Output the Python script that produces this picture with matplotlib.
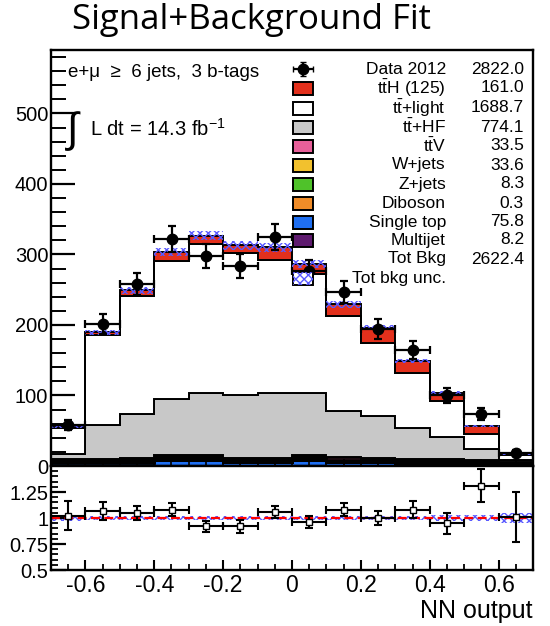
import matplotlib
matplotlib.use('Agg')
import matplotlib.pyplot as plt
from matplotlib.ticker import MultipleLocator, FixedLocator
from matplotlib.patches import Rectangle
import numpy as np

plt.rcParams['font.family'] = ['Liberation Sans', 'DejaVu Sans']
plt.rcParams['axes.unicode_minus'] = False
plt.rcParams['mathtext.fontset'] = 'custom'
plt.rcParams['mathtext.rm'] = 'Liberation Sans'
plt.rcParams['hatch.linewidth'] = 1.0

# NN output binning (14 bins)
bin_edges = [-0.7, -0.6, -0.5, -0.4, -0.3, -0.2, -0.1, 0.0, 0.1, 0.2, 0.3, 0.4, 0.5, 0.6, 0.7]

# Observed events per bin
data = [58, 202, 258, 322, 298, 284, 325, 276, 247, 194, 164, 100, 74, 19]

# Post-fit yields per bin, stacked bottom -> top
multijet = [1.5, 1.0, 0.8, 0.6, 0.6, 0.5, 0.5, 0.5, 0.4, 0.4, 0.3, 0.2, 0.1, 0.8]
single_top = [3.5, 4.5, 5.0, 8.5, 8.5, 5.0, 5.0, 8.5, 5.5, 5.0, 4.5, 4.5, 4.0, 3.8]
diboson = [0, 0, 0.05, 0.05, 0.05, 0.05, 0.05, 0.05, 0, 0, 0, 0, 0, 0]
zjets = [1.0, 0.8, 0.7, 0.7, 0.6, 0.6, 0.6, 0.6, 0.6, 0.5, 0.5, 0.4, 0.4, 0.3]
wjets = [2.5, 2.5, 2.8, 3.0, 3.0, 2.8, 2.8, 3.0, 2.6, 2.4, 2.2, 2.0, 1.8, 0.2]
ttv = [1.0, 1.8, 2.2, 2.6, 2.8, 2.8, 3.0, 3.2, 3.0, 2.9, 2.7, 2.4, 2.1, 1.0]
tthf = [8, 48, 62, 80, 88, 89, 92, 87, 66, 60, 44, 31, 16, 3.1]
ttlight = [37, 127, 168, 196, 211, 201, 188, 169, 134, 103, 77, 51, 21, 5.7]
tth = [0.5, 4, 8, 12, 12, 11, 18, 14, 17, 22, 18, 12, 11, 1.5]

# Relative total background uncertainty per bin
bkg_unc = [0.03, 0.02, 0.02, 0.02, 0.02, 0.02, 0.02, 0.02, 0.02, 0.02, 0.02, 0.025, 0.03, 0.05]

# Data / prediction ratio
ratio = [1.02, 1.065, 1.05, 1.08, 0.92, 0.92, 1.06, 0.96, 1.08, 1.00, 1.08, 0.95, 1.31, 1.01]
ratio_err = [0.14, 0.085, 0.065, 0.06, 0.055, 0.06, 0.06, 0.06, 0.065, 0.07, 0.08, 0.1, 0.16, 0.24]

# Legend entries: label, yield
legend_labels = ['$\\mathrm{t\\bar{t}}$H (125)', '$\\mathrm{t\\bar{t}}$+light', '$\\mathrm{t\\bar{t}}$+HF',
                 '$\\mathrm{t\\bar{t}}$V', 'W+jets', 'Z+jets', 'Diboson', 'Single top', 'Multijet']
legend_yields = ['161.0', '1688.7', '774.1', '33.5', '33.6', '8.3', '0.3', '75.8', '8.2']
data_yield = '2822.0'
totbkg_yield = '2622.4'

colors = {
    'tth': '#e3301c', 'ttlight': '#ffffff', 'tthf': '#c8c8c8', 'ttv': '#e8609a',
    'wjets': '#f2c12e', 'zjets': '#4fc22a', 'diboson': '#f08c28', 'single_top': '#1f6ff2',
    'multijet': '#5e1a6e',
}
unc_color = '#5a5aff'
LEG_FS = 12.5

edges = np.array(bin_edges)
centers = 0.5 * (edges[1:] + edges[:-1])
half_w = 0.5 * np.diff(edges)

fig = plt.figure(figsize=(5.5, 6.26), dpi=100)
ax = fig.add_axes([51/550, 1 - 466/626, 482/550, 416/626])
rax = fig.add_axes([51/550, 1 - 570/626, 482/550, 104/626], sharex=ax)

# ---- stacked histogram ----
stack = [(multijet, 'multijet'), (single_top, 'single_top'), (diboson, 'diboson'),
         (zjets, 'zjets'), (wjets, 'wjets'), (ttv, 'ttv'), (tthf, 'tthf'),
         (ttlight, 'ttlight'), (tth, 'tth')]
small = {'multijet', 'single_top', 'diboson', 'zjets', 'wjets', 'ttv'}
bottom = np.zeros(len(data))
for vals, key in stack:
    top = bottom + np.array(vals)
    ax.stairs(top, edges, baseline=bottom.copy(), fill=True, facecolor=colors[key],
              edgecolor='black', linewidth=2.0 if key in small else 1.4)
    bottom = top
total = bottom

unc = np.array(bkg_unc)
ax.stairs(total * (1 + unc), edges, baseline=total * (1 - unc), fill=True,
          facecolor='none', edgecolor=unc_color, hatch='xxxx', linewidth=0)

data_arr = np.array(data, dtype=float)
ax.errorbar(centers, data_arr, yerr=np.sqrt(data_arr), xerr=half_w, fmt='o', color='black',
            ms=7.5, capsize=3, elinewidth=1.6, capthick=1.6, zorder=5)

ax.set_xlim(-0.7, 0.7)
ax.set_ylim(0, 590)
ax.yaxis.set_major_locator(FixedLocator([0, 100, 200, 300, 400, 500]))
ax.yaxis.set_minor_locator(MultipleLocator(20))
ax.xaxis.set_major_locator(MultipleLocator(0.2))
ax.xaxis.set_minor_locator(MultipleLocator(0.05))
ax.tick_params(axis='y', which='major', direction='in', length=17, width=1.6, labelsize=14.5, pad=2)
ax.tick_params(axis='y', which='minor', direction='in', length=11, width=1.4)
ax.tick_params(axis='x', which='both', direction='in', length=5, width=1.2, labelbottom=False)
for s in ax.spines.values():
    s.set_linewidth(1.7)

# ---- annotations ----
ax.text(0.035, 0.945, 'e+\u03bc  \u2265  6 jets,  3 b-tags', transform=ax.transAxes,
        fontsize=13.5, va='center', ha='left')
ax.text(0.03, 0.805, '$\\int$', transform=ax.transAxes, fontsize=30, va='center', ha='left')
ax.text(0.08, 0.81, 'L dt = 14.3 fb$^{-1}$', transform=ax.transAxes, fontsize=14.5,
        va='center', ha='left')

# ---- legend ----
def ax_x(px):
    return (px - 51) / 482

def ax_y(py):
    return (466 - py) / 416

box_x, box_w, box_h = ax_x(293), 20 / 482, 13 / 416
lab_x, val_x = ax_x(446), ax_x(524)
row_y = [69, 88, 108, 127, 146, 165, 184, 203, 222, 240, 259, 278]

# data marker
ax.errorbar([ax_x(303)], [ax_y(row_y[0])], xerr=[10 / 482], yerr=[7 / 416], fmt='o', color='black',
            ms=7.5, capsize=2, elinewidth=1.6, transform=ax.transAxes, clip_on=False, zorder=6)
ax.text(lab_x, ax_y(row_y[0]), 'Data 2012', transform=ax.transAxes, ha='right', va='center', fontsize=LEG_FS)
ax.text(val_x, ax_y(row_y[0]), data_yield, transform=ax.transAxes, ha='right', va='center', fontsize=LEG_FS)

legend_keys = ['tth', 'ttlight', 'tthf', 'ttv', 'wjets', 'zjets', 'diboson', 'single_top', 'multijet']
for i, (key, lab, yld) in enumerate(zip(legend_keys, legend_labels, legend_yields)):
    y = ax_y(row_y[i + 1])
    ax.add_patch(Rectangle((box_x, y - box_h / 2), box_w, box_h, transform=ax.transAxes,
                           facecolor=colors[key], edgecolor='black', linewidth=1.4, zorder=6))
    ax.text(lab_x, y, lab, transform=ax.transAxes, ha='right', va='center', fontsize=LEG_FS)
    ax.text(val_x, y, yld, transform=ax.transAxes, ha='right', va='center', fontsize=LEG_FS)

ax.text(lab_x, ax_y(row_y[10]), 'Tot Bkg', transform=ax.transAxes, ha='right', va='center', fontsize=LEG_FS)
ax.text(val_x, ax_y(row_y[10]), totbkg_yield, transform=ax.transAxes, ha='right', va='center', fontsize=LEG_FS)
y = ax_y(row_y[11])
ax.add_patch(Rectangle((box_x, y - box_h / 2), box_w, box_h, transform=ax.transAxes,
                       facecolor='white', edgecolor='black', linewidth=1.4, zorder=6))
ax.add_patch(Rectangle((box_x, y - box_h / 2), box_w, box_h, transform=ax.transAxes,
                       facecolor='none', edgecolor=unc_color, hatch='xxxx', linewidth=0, zorder=7))
ax.text(lab_x, y, 'Tot bkg unc.', transform=ax.transAxes, ha='right', va='center', fontsize=LEG_FS)

# ---- ratio panel ----
rax.stairs(1 + unc, edges, baseline=1 - unc, fill=True, facecolor='none',
           edgecolor=unc_color, hatch='xxxx', linewidth=0)
rax.axhline(1.0, color='red', ls='--', lw=1.6, dashes=(4, 2))
rax.errorbar(centers, ratio, yerr=ratio_err, xerr=half_w, fmt='s', color='black', mfc='white',
             mec='black', ms=4.5, capsize=3, elinewidth=1.5, capthick=1.5, zorder=5)

rax.set_ylim(0.5, 1.5)
rax.yaxis.set_major_locator(FixedLocator([0.5, 0.75, 1.0, 1.25]))
rax.set_yticklabels(['0.5', '0.75', '1', '1.25'])
rax.yaxis.set_minor_locator(MultipleLocator(0.05))
rax.set_xticks([-0.6, -0.4, -0.2, 0.0, 0.2, 0.4, 0.6])
rax.set_xticklabels(['-0.6', '-0.4', '-0.2', '0', '0.2', '0.4', '0.6'])
rax.xaxis.set_minor_locator(MultipleLocator(0.05))
rax.tick_params(axis='y', which='major', direction='in', length=11, width=1.6, labelsize=14.5, pad=2)
rax.tick_params(axis='y', which='minor', direction='in', length=5, width=1.3)
rax.tick_params(axis='x', which='major', direction='in', length=7, width=1.5, labelsize=16.5, pad=3)
rax.tick_params(axis='x', which='minor', direction='in', length=4, width=1.3)
for s in rax.spines.values():
    s.set_linewidth(1.7)
rax.set_xlabel('NN output', fontsize=18, ha='right', x=1.0, labelpad=1)

fig.text(0.458, 1 - 29/626, 'Signal+Background Fit', ha='center', va='baseline',
         fontsize=25, family=['Open Sans', 'DejaVu Sans'])

plt.savefig('out.png', dpi=100)
plt.close()
